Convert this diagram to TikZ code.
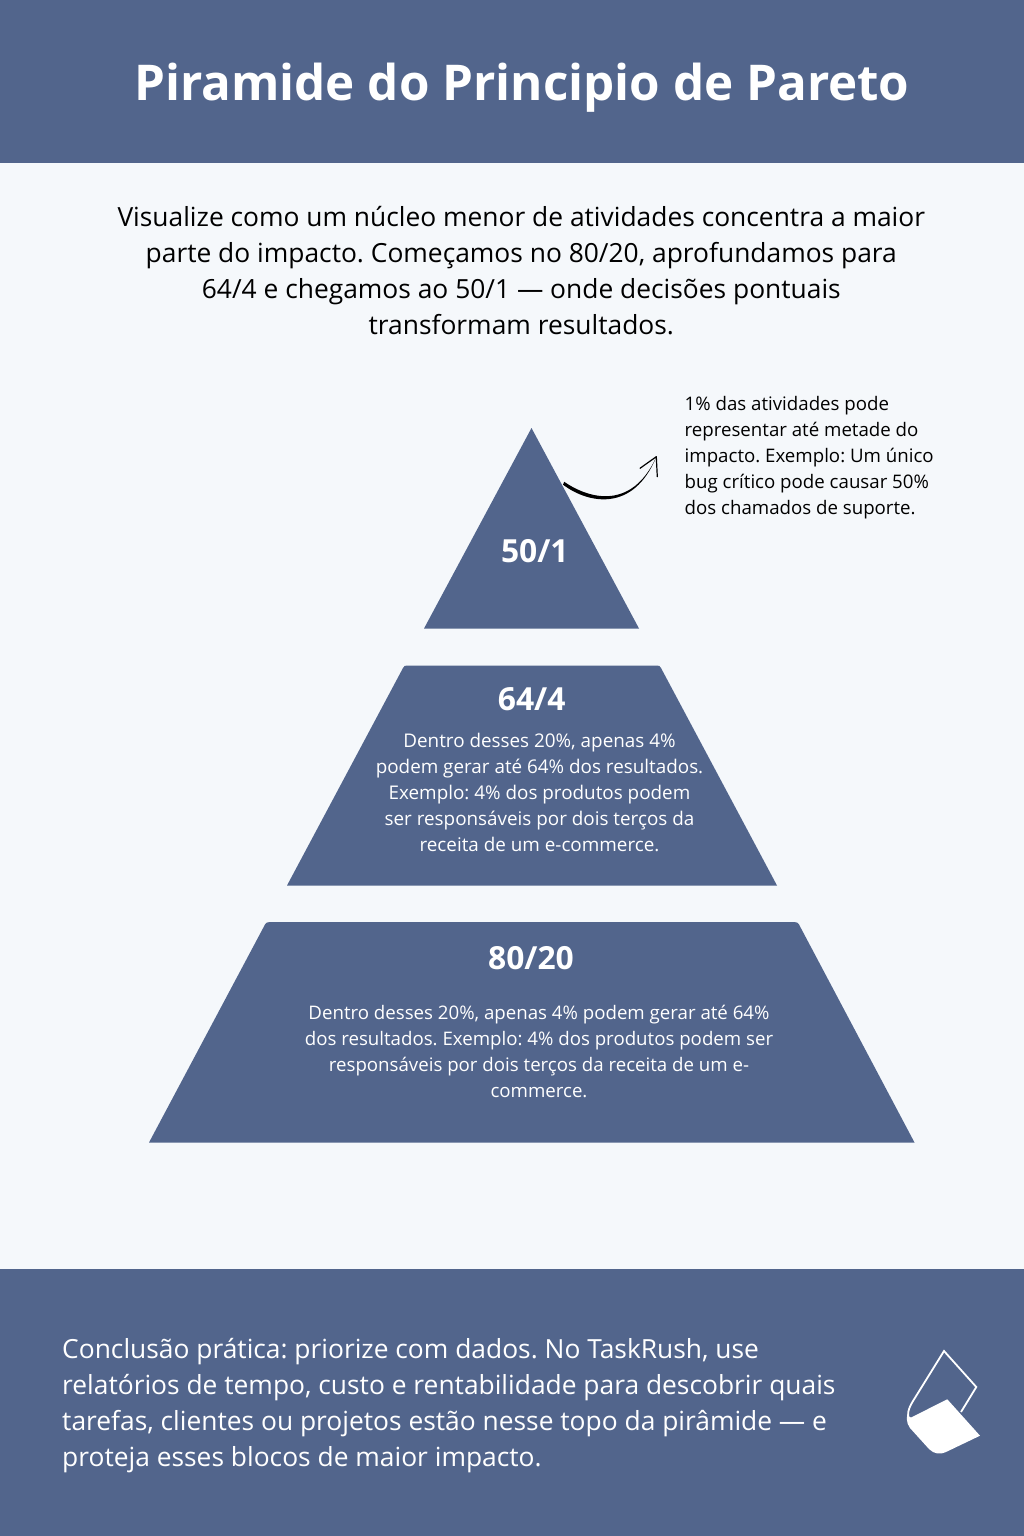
\documentclass[tikz,border=0pt]{standalone}
\usepackage{fontspec}
\setmainfont{Open Sans}
\frenchspacing
\definecolor{slate}{HTML}{52658C}
\definecolor{paper}{HTML}{F5F8FB}
\tikzset{
  block/.style={fill=slate,draw=none},
  lead/.style={font=\fontsize{26.37}{36}\selectfont,align=center,text=black,inner sep=0},
  small/.style={font=\fontsize{18.67}{26}\selectfont,align=center,text=white,inner sep=0},
  note/.style={font=\fontsize{18.67}{26}\selectfont,align=left,text=black,inner sep=0,anchor=north west},
  tier/.style={font=\bfseries\fontsize{31.8}{36}\selectfont,text=white,inner sep=0},
}
\begin{document}
\begin{tikzpicture}[x=1pt,y=-1pt]
\useasboundingbox (0,0) rectangle (1024,1536);
\fill[paper] (0,0) rectangle (1024,1536);
\fill[block] (0,0) rectangle (1024,163);
\fill[block] (0,1269) rectangle (1024,1536);
\node[font=\bfseries\fontsize{49.3}{56}\selectfont,text=white,inner sep=0] (title) at (521.8,88) {Piramide do Principio de Pareto};
\node[lead] (intro) at (521.3,271) {Visualize como um núcleo menor de atividades concentra a maior\\parte do impacto. Começamos no 80/20, aprofundamos para\\64/4 e chegamos ao 50/1 — onde decisões pontuais\\transformam resultados.};
% pyramid
\fill[block] (531.5,428) -- (639,628.5) -- (424,628.5) -- cycle;
\fill[block] (287,885.5) -- (403,668) .. controls (404,666) and (405,665.5) .. (407,665.5) -- (657,665.5) .. controls (659,665.5) and (660,666) .. (661,668) -- (777,885.5) -- cycle;
\fill[block] (149,1142.5) -- (265,924.5) .. controls (266,922.8) and (267,922) .. (270,922) -- (794,922) .. controls (797,922) and (798,922.8) .. (799,924.5) -- (914.5,1142.5) -- cycle;
\node[tier] (t1) at (534.8,551.5) {50/1};
\node[tier] (t2) at (531.7,699.5) {64/4};
\node[tier] (t3) at (531,958.5) {80/20};
\node[small,font=\fontsize{18.85}{26}\selectfont] (d2) at (539.5,792.3) {Dentro desses 20\%, apenas 4\%\\podem gerar até 64\% dos resultados.\\Exemplo: 4\% dos produtos podem\\ser responsáveis por dois terços da\\receita de um e-commerce.};
\node[small] (d3) at (539,1051) {Dentro desses 20\%, apenas 4\% podem gerar até 64\%\\dos resultados. Exemplo: 4\% dos produtos podem ser\\responsáveis por dois terços da receita de um e-\\commerce.};
\node[note] (n1) at (684.5,396.5) {1\% das atividades pode\\representar até metade do\\impacto. Exemplo: Um único\\bug crítico pode causar 50\%\\dos chamados de suporte.};
% arrow
\fill[black] (563,484.7) .. controls (588,503.5) and (633,513) .. (656.3,457) .. controls (632,510) and (590,499.5) .. (564.2,481.8) -- cycle;
\draw[black,line width=1.2pt,line cap=round,line join=round] (640,468.3) -- (656.3,456.7) -- (657.3,476.7);
% conclusion
\node[lead,align=left,text=white,anchor=west] (concl) at (62,1406) {Conclusão prática: priorize com dados. No TaskRush, use\\relatórios de tempo, custo e rentabilidade para descobrir quais\\tarefas, clientes ou projetos estão nesse topo da pirâmide — e\\proteja esses blocos de maior impacto.};
% logo
\draw[white,line width=1.8pt,line join=miter] (961,1412) -- (976.3,1387) -- (944,1351) -- (913,1401) .. controls (908,1409) and (907,1415) .. (909,1419);
\fill[white] (911,1417.5) -- (947.3,1399.3) -- (980,1435.7) -- (947,1451.5) .. controls (940,1455) and (934,1454) .. (929,1449) -- (910,1428) .. controls (906,1423) and (906,1415) .. (908.5,1412) .. controls (908,1416) and (909,1418) .. (911,1417.5) -- cycle;
\end{tikzpicture}
\end{document}
